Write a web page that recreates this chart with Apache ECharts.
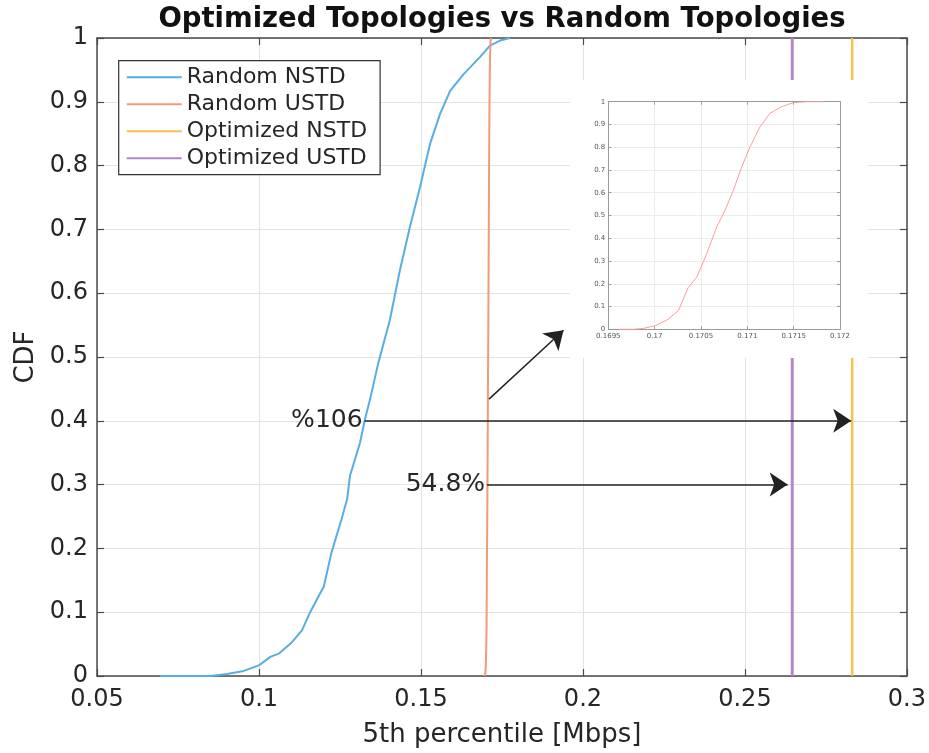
<!DOCTYPE html>
<html>
<head>
<meta charset="utf-8">
<script src="https://cdn.jsdelivr.net/npm/echarts@6/dist/echarts.min.js"></script>
<style>
html,body{margin:0;padding:0;background:#fff;}
#c{width:929px;height:753px;}
</style>
</head>
<body>
<div id="c"></div>
<script>
// ---- data ----
var seriesNames = ['Random NSTD', 'Random USTD', 'Optimized NSTD', 'Optimized USTD'];
var nstdX = [0.0694, 0.0850, 0.0901, 0.0953, 0.1001, 0.1035, 0.1061, 0.1100, 0.1133, 0.1158, 0.1188, 0.1200, 0.1224, 0.1230, 0.1255, 0.1272, 0.1281, 0.1312, 0.1327, 0.1343, 0.1368, 0.1404, 0.1435, 0.1466, 0.1497, 0.1528, 0.1559, 0.1590, 0.1631, 0.1682, 0.1713, 0.1744, 0.1775];
var nstdY = [0.000, 0.000, 0.003, 0.008, 0.017, 0.030, 0.035, 0.052, 0.072, 0.100, 0.129, 0.140, 0.194, 0.204, 0.246, 0.277, 0.314, 0.366, 0.402, 0.434, 0.490, 0.558, 0.636, 0.704, 0.766, 0.834, 0.881, 0.917, 0.943, 0.970, 0.988, 0.996, 1.000];
var ustdX = [0.16961, 0.16977, 0.16988, 0.17000, 0.17013, 0.170255, 0.170363, 0.170453, 0.170561, 0.170669, 0.170759, 0.170849, 0.170939, 0.171029, 0.171137, 0.171245, 0.171371, 0.171496, 0.17164, 0.17182];
var ustdY = [0.000, 0.000, 0.004, 0.015, 0.040, 0.081, 0.184, 0.228, 0.331, 0.449, 0.522, 0.610, 0.713, 0.801, 0.890, 0.949, 0.978, 0.996, 1.000, 1.000];
var optNstd = 0.2831;
var optUstd = 0.2646;
var cdfRange = [0, 1];
var xTicks = [0.05, 0.3, 0.05];        // min, max, step
var yTicks = [0, 1, 0.1];
var insetXTicks = [0.1695, 0.172, 0.0005];
var insetYTicks = [0, 1, 0.1];
var arrowText = ['%106', '54.8%', ''];
var arrowFrom = [[0.1326, 0.4], [0.1704, 0.3], [0.1710, 0.434]];
var arrowTo   = [[0.2828, 0.4], [0.2632, 0.3], [0.1940, 0.542]];

// ---- chart ----
var colors = ['#58aee2', '#f09a78', '#f6c24f', '#b386c6'];
var FONT = 'DejaVu Sans';
function zip(a, b) { return a.map(function (v, i) { return [v, b[i]]; }); }
function fmt(v) { return String(parseFloat(v.toFixed(5))); }

var chart = echarts.init(document.getElementById('c'), null, {renderer: 'canvas'});

var mainGrid = {left: 97, top: 38, right: 21, bottom: 75.5};
var insetGrid = {left: 608.3, top: 101.7, width: 231.7, height: 227.6};

function mainAxisBase(t) {
  return {
    type: 'value', min: t[0], max: t[1], interval: t[2],
    axisLine: {show: true, onZero: false, lineStyle: {color: '#4a4a4a', width: 1.5}},
    axisTick: {show: true, inside: true, length: 7, lineStyle: {color: '#4a4a4a', width: 1.2}},
    splitLine: {show: true, lineStyle: {color: '#e3e3e3', width: 1}},
    axisLabel: {fontFamily: FONT, fontSize: 24, color: '#262626', formatter: fmt}
  };
}
function insetAxisBase(t) {
  return {
    type: 'value', min: t[0], max: t[1], interval: t[2], z: 20,
    axisLine: {show: true, onZero: false, lineStyle: {color: '#9a9a9a', width: 1}},
    axisTick: {show: true, inside: true, length: 3, lineStyle: {color: '#9a9a9a', width: 1}},
    splitLine: {show: true, lineStyle: {color: '#ececec', width: 1}},
    axisLabel: {fontFamily: FONT, fontSize: 7, color: '#555', formatter: fmt}
  };
}

var xMain = mainAxisBase(xTicks);
xMain.gridIndex = 0; xMain.position = 'bottom';
xMain.axisLabel.margin = 12;
xMain.name = '5th percentile [Mbps]';
xMain.nameLocation = 'middle';
xMain.nameGap = 46;
xMain.nameTextStyle = {fontFamily: FONT, fontSize: 26, color: '#262626'};

var xMainTop = mainAxisBase(xTicks);
xMainTop.gridIndex = 0; xMainTop.position = 'top';
xMainTop.axisLabel = {show: false}; xMainTop.splitLine = {show: false};

var yMain = mainAxisBase(yTicks);
yMain.gridIndex = 0; yMain.position = 'left';
yMain.axisLabel.margin = 9;
yMain.name = 'CDF';
yMain.nameLocation = 'middle';
yMain.nameGap = 57;
yMain.nameTextStyle = {fontFamily: FONT, fontSize: 26, color: '#262626'};

var yMainRight = mainAxisBase(yTicks);
yMainRight.gridIndex = 0; yMainRight.position = 'right';
yMainRight.axisLabel = {show: false}; yMainRight.splitLine = {show: false};

var xIn = insetAxisBase(insetXTicks);
xIn.gridIndex = 1; xIn.position = 'bottom'; xIn.axisLabel.margin = 3;
var xInTop = insetAxisBase(insetXTicks);
xInTop.gridIndex = 1; xInTop.position = 'top'; xInTop.axisLabel = {show: false}; xInTop.splitLine = {show: false};
var yIn = insetAxisBase(insetYTicks);
yIn.gridIndex = 1; yIn.position = 'left'; yIn.axisLabel.margin = 3;
var yInRight = insetAxisBase(insetYTicks);
yInRight.gridIndex = 1; yInRight.position = 'right'; yInRight.axisLabel = {show: false}; yInRight.splitLine = {show: false};

var markData = arrowFrom.map(function (f, i) {
  return [
    {coord: f, label: {show: !!arrowText[i], formatter: arrowText[i]}},
    {coord: arrowTo[i]}
  ];
});

var lineBase = {type: 'line', showSymbol: false, symbol: 'none', animation: false, xAxisIndex: 0, yAxisIndex: 0};

chart.setOption({
  animation: false,
  backgroundColor: '#fff',
  title: {
    text: 'Optimized Topologies vs Random Topologies',
    left: 497, top: 1, textAlign: 'center',
    textStyle: {fontFamily: FONT, fontWeight: 'bold', fontSize: 27.5, color: '#111'}
  },
  legend: {
    orient: 'vertical', left: 118.7, top: 60.7,
    padding: [3, 13, 3, 8], itemGap: 0, itemWidth: 55, itemHeight: 14,
    borderColor: '#333', borderWidth: 1.2, backgroundColor: '#fff',
    textStyle: {fontFamily: FONT, fontSize: 22, color: '#262626', lineHeight: 27},
    data: seriesNames.map(function (n) { return {name: n, icon: 'path://M0,6 L55,6 L55,8 L0,8 Z'}; })
  },
  grid: [mainGrid, insetGrid],
  xAxis: [xMain, xMainTop, xIn, xInTop],
  yAxis: [yMain, yMainRight, yIn, yInRight],
  graphic: [{
    type: 'rect', z: 10, silent: true,
    shape: {x: 570, y: 80, width: 298, height: 278},
    style: {fill: '#fff'}
  }],
  series: [
    Object.assign({}, lineBase, {name: seriesNames[0], data: zip(nstdX, nstdY), color: colors[0], lineStyle: {width: 2, color: colors[0]}}),
    Object.assign({}, lineBase, {name: seriesNames[1], data: zip(ustdX, ustdY), color: colors[1], lineStyle: {width: 2, color: colors[1]}}),
    Object.assign({}, lineBase, {name: seriesNames[2], data: [[optNstd, cdfRange[0]], [optNstd, cdfRange[1]]], color: colors[2], lineStyle: {width: 2.5, color: colors[2]}}),
    Object.assign({}, lineBase, {name: seriesNames[3], data: [[optUstd, cdfRange[0]], [optUstd, cdfRange[1]]], color: colors[3], lineStyle: {width: 3, color: colors[3]}}),
    Object.assign({}, lineBase, {
      name: 'annotations', data: [], silent: true, z: 5,
      markLine: {
        silent: true, animation: false,
        symbol: ['none', 'arrow'], symbolSize: 18,
        lineStyle: {color: '#222', width: 1.5, type: 'solid'},
        label: {position: 'start', distance: 2, fontFamily: FONT, fontSize: 25, color: '#262626'},
        emphasis: {disabled: true},
        data: markData
      }
    }),
    Object.assign({}, lineBase, {
      name: 'Random USTD (zoom)', xAxisIndex: 2, yAxisIndex: 2, z: 21,
      data: zip(ustdX, ustdY), color: '#ff9c9c', lineStyle: {width: 1, color: '#ff9c9c'}
    })
  ]
});
</script>
</body>
</html>
